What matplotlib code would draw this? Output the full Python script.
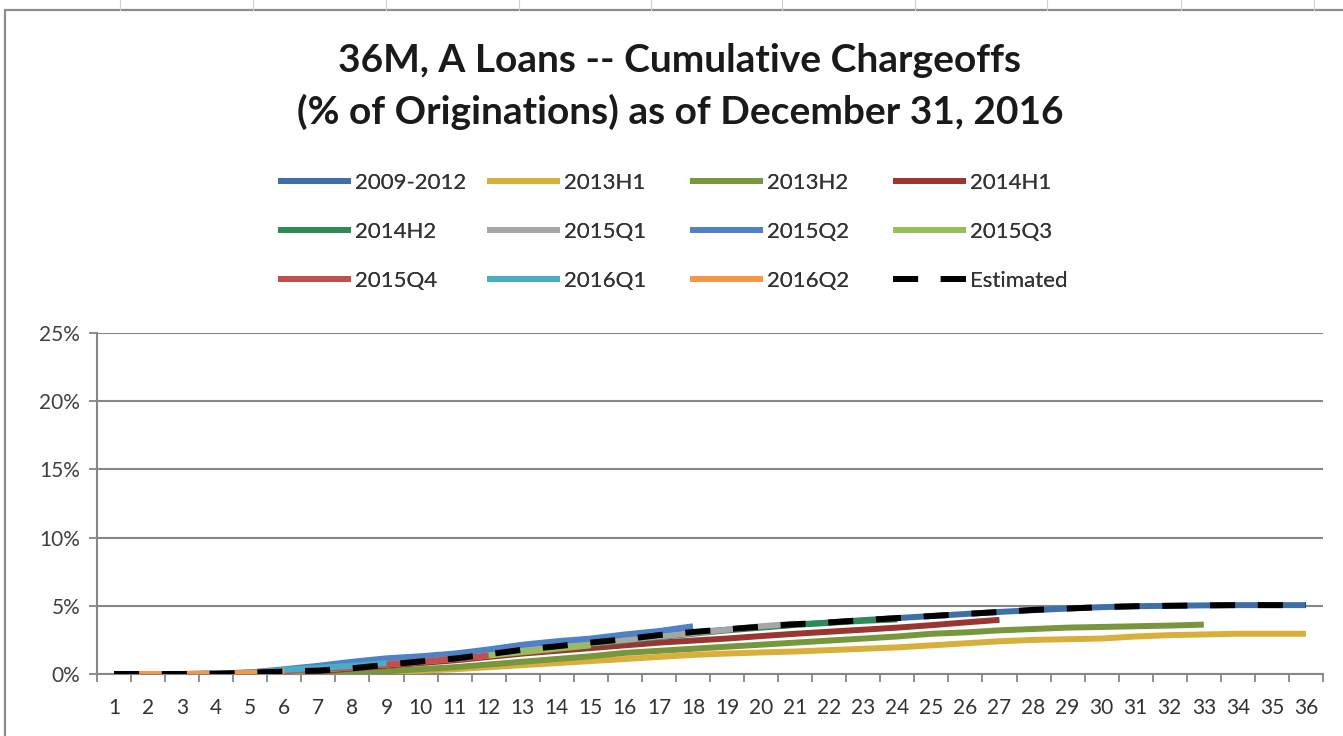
"""36M A loans cumulative chargeoffs chart, Excel-style."""

import matplotlib
matplotlib.use("Agg")
import matplotlib.pyplot as plt
from matplotlib.lines import Line2D
from matplotlib.patches import Rectangle
from matplotlib.ticker import FixedLocator, FuncFormatter, NullFormatter

plt.rcParams["font.family"] = ["Lato", "DejaVu Sans"]

months = list(range(1, 37))
tick_labels = [str(m) for m in months]

# cumulative chargeoffs, % of originations, by month on book
s_2009_2012 = [0, 0, 0, 0.03, 0.1, 0.22, 0.35, 0.6, 0.85, 1.05, 1.25, 1.5, 1.8, 2.05, 2.3,
               2.55, 2.8, 3.05, 3.25, 3.45, 3.62, 3.78, 3.95, 4.1, 4.25, 4.4, 4.55, 4.68,
               4.8, 4.9, 4.97, 5.0, 5.03, 5.05, 5.05, 5.05]
s_2013h1 = [0, 0, 0, 0, 0, 0, 0, 0.05, 0.15, 0.25, 0.35, 0.5, 0.65, 0.8, 0.95, 1.1, 1.25,
            1.4, 1.5, 1.58, 1.65, 1.75, 1.85, 1.95, 2.1, 2.25, 2.4, 2.5, 2.55, 2.6, 2.75,
            2.85, 2.9, 2.95, 2.95, 2.95]
s_2013h2 = [0, 0, 0, 0, 0, 0, 0, 0.1, 0.2, 0.35, 0.5, 0.7, 0.9, 1.1, 1.3, 1.55, 1.7, 1.85,
            2.0, 2.15, 2.3, 2.45, 2.6, 2.75, 2.95, 3.05, 3.2, 3.3, 3.4, 3.45, 3.5, 3.55, 3.62]
s_2014h1 = [0, 0, 0, 0, 0, 0.1, 0.2, 0.4, 0.6, 0.8, 1.0, 1.25, 1.5, 1.7, 1.9, 2.1, 2.3,
            2.45, 2.6, 2.78, 2.95, 3.1, 3.25, 3.4, 3.58, 3.78, 3.97]
s_2014h2 = [0, 0, 0, 0, 0.05, 0.15, 0.3, 0.5, 0.75, 0.95, 1.15, 1.4, 1.7, 1.95, 2.2, 2.45,
            2.7, 2.95, 3.2, 3.4, 3.6, 3.75, 3.9, 4.0]
s_2015q1 = [0, 0, 0, 0, 0.05, 0.2, 0.35, 0.55, 0.8, 1.0, 1.2, 1.45, 1.75, 2.0, 2.25, 2.5,
            2.75, 3.0, 3.25, 3.5, 3.7]
s_2015q2 = [0, 0, 0, 0.03, 0.12, 0.35, 0.6, 0.9, 1.15, 1.3, 1.5, 1.8, 2.15, 2.4, 2.6, 2.9,
            3.15, 3.5]
s_2015q3 = [0, 0, 0, 0, 0.05, 0.15, 0.3, 0.5, 0.7, 0.9, 1.1, 1.35, 1.6, 1.85, 2.1]
s_2015q4 = [0, 0, 0, 0, 0.05, 0.2, 0.35, 0.5, 0.7, 0.9, 1.1, 1.35]
s_2016q1 = [0, 0, 0, 0.02, 0.1, 0.3, 0.45, 0.6, 0.8]
s_2016q2 = [0, 0, 0, 0.02, 0.08, 0.15]
s_estimated = [0, 0, 0, 0.02, 0.1, 0.18, 0.25, 0.42, 0.68, 0.92, 1.13, 1.45, 1.78, 2.03,
               2.3, 2.55, 2.85, 3.08, 3.28, 3.47, 3.65, 3.78, 3.95, 4.1, 4.25, 4.4, 4.55,
               4.7, 4.8, 4.9, 4.97, 5.0, 5.03, 5.05, 5.05, 5.05]

series_names = ["2009-2012", "2013H1", "2013H2", "2014H1", "2014H2", "2015Q1",
                "2015Q2", "2015Q3", "2015Q4", "2016Q1", "2016Q2"]
series_values = [s_2009_2012, s_2013h1, s_2013h2, s_2014h1, s_2014h2, s_2015q1,
                 s_2015q2, s_2015q3, s_2015q4, s_2016q1, s_2016q2]
series_colors = ["#3F6FA8", "#D9AE3A", "#77963E", "#9A3532", "#2F8A55", "#A6A6A6",
                 "#4F81C6", "#98BE5A", "#C0504D", "#4BACC6", "#F79646"]

W, H = 1343, 736
fig = plt.figure(figsize=(W / 100, H / 100), dpi=100)

# spreadsheet cell lines behind the chart object
for xv in [120, 253, 386, 519, 651, 782, 915, 1047, 1181, 1314]:
    fig.add_artist(Line2D([xv / W, xv / W], [1, 1 - 10 / H], color="#d0d0d0", lw=0.8))
fig.add_artist(Rectangle((5 / W, -0.05), 1.1, 1 - 10 / H + 0.05, transform=fig.transFigure,
                         fill=False, edgecolor="#8c8c8c", lw=1.6))

ax = fig.add_axes([97 / W, 1 - 674 / H, (1323 - 97) / W, (674 - 333) / H])

LW = 4.3
for name, vals, col in zip(series_names, series_values, series_colors):
    x = months[:len(vals)]
    ax.plot(x, vals, color=col, lw=LW, solid_capstyle="butt", label=name, zorder=3)
ax.plot(months, s_estimated, color="black", lw=LW, ls=(0, (4.2, 3.8)), label="Estimated",
        zorder=4)

ax.set_xlim(0.5, 36.5)
ax.set_ylim(0, 25)
ax.set_yticks([0, 5, 10, 15, 20, 25])
ax.yaxis.set_major_formatter(FuncFormatter(lambda v, p: f"{v:.0f}%"))
ax.set_xticks(months)
ax.set_xticklabels(tick_labels)
ax.xaxis.set_minor_locator(FixedLocator([m + 0.5 for m in range(0, 37)]))
ax.xaxis.set_minor_formatter(NullFormatter())
ax.tick_params(axis="x", which="major", length=0, pad=17, labelsize=15, labelcolor="#333333")
ax.tick_params(axis="x", which="minor", length=6, width=1.3, color="#868686")
ax.tick_params(axis="y", length=6, width=1.3, color="#868686", labelsize=15,
               labelcolor="#404040", pad=6)
ax.grid(axis="y", color="#868686", lw=1.5, zorder=1)
for side in ["top", "right"]:
    ax.spines[side].set_visible(False)
for side in ["left", "bottom"]:
    ax.spines[side].set_color("#868686")
    ax.spines[side].set_linewidth(1.5)

fig.text(680 / W, 1 - 60 / H, "36M, A Loans -- Cumulative Chargeoffs", ha="center",
         va="center", fontsize=28, fontweight="bold", color="#1a1a1a")
fig.text(680 / W, 1 - 112 / H, "(% of Originations) as of December 31, 2016", ha="center",
         va="center", fontsize=28, fontweight="bold", color="#1a1a1a")

# Excel legend: 4 equal-width columns, filled row by row
handles, labels = ax.get_legend_handles_labels()
col_x = [278, 487, 690, 893]
for c, xl in enumerate(col_x):
    idx = [c, c + 4, c + 8]
    leg = fig.legend([handles[i] for i in idx], [labels[i] for i in idx],
                     loc="upper left", bbox_to_anchor=(xl / W, 1 - 173 / H),
                     frameon=False, fontsize=16, handlelength=3.3, handletextpad=0.15,
                     labelspacing=1.3, labelcolor="#333333", borderpad=0,
                     borderaxespad=0)
    fig.add_artist(leg)

fig.savefig("out.png", dpi=100)
